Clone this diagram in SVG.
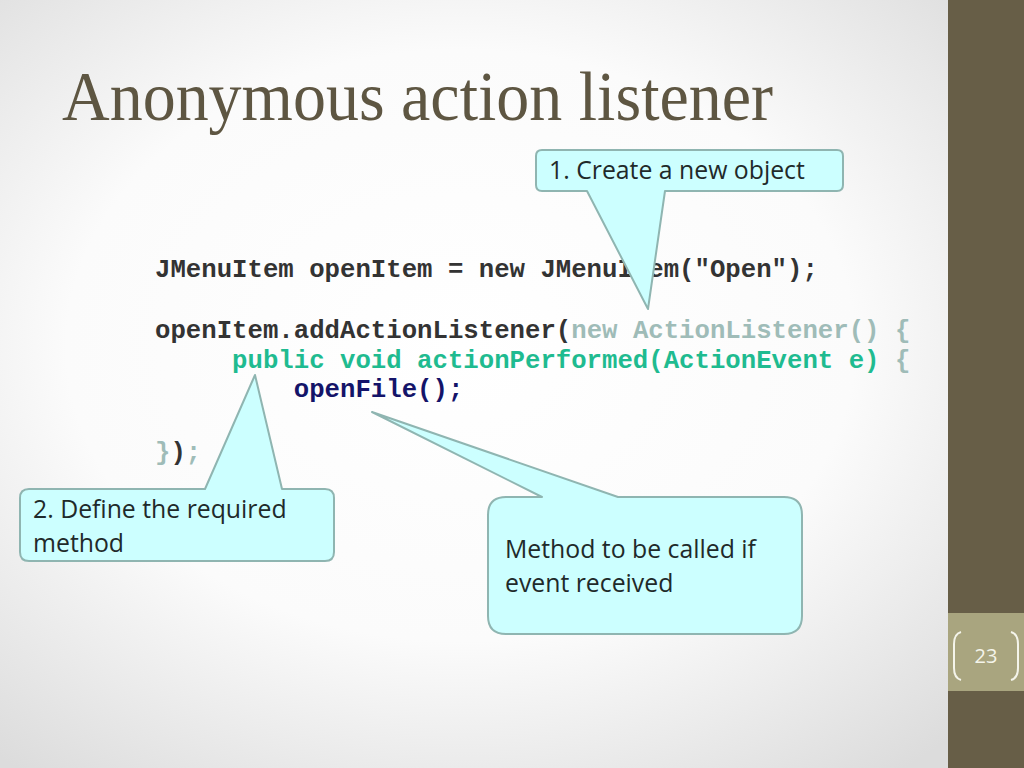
<svg xmlns="http://www.w3.org/2000/svg" width="1024" height="768" viewBox="0 0 1024 768">
<defs>
<radialGradient id="bg" cx="0.45" cy="0.45" r="0.7">
<stop offset="0" stop-color="#ffffff"/>
<stop offset="0.55" stop-color="#fbfbfb"/>
<stop offset="1" stop-color="#dcdcdc"/>
</radialGradient>
<style>
.code{font-family:"Liberation Mono","Courier New",monospace;font-weight:bold;font-size:25.7px;white-space:pre}
.dk{fill:#333333}.lt{fill:#9fbcb8}.gr{fill:#1fbb90}.nv{fill:#141469}
.call{fill:#ccffff;stroke:#8fb5b1;stroke-width:2;stroke-linejoin:round}
.ct{font-family:"Open Sans","Noto Sans",sans-serif;font-size:24.8px;fill:#1f2a2a}
</style>
</defs>
<rect width="1024" height="768" fill="url(#bg)"/>
<rect x="948" y="0" width="76" height="768" fill="#675e47"/>
<rect x="948" y="613" width="76" height="78" fill="#a9a57f"/>
<path d="M961 632 Q954 634 954 644 L954 668 Q954 678 961 680" fill="none" stroke="#f4f4ea" stroke-width="2"/>
<path d="M1011 632 Q1018 634 1018 644 L1018 668 Q1018 678 1011 680" fill="none" stroke="#f4f4ea" stroke-width="2"/>
<text x="986" y="663" text-anchor="middle" font-family="Open Sans, Noto Sans, sans-serif" font-size="20" fill="#f4f4ea">23</text>
<text x="62" y="120" font-family="Liberation Serif, Times New Roman, serif" font-size="69" fill="#5e5642" textLength="711" lengthAdjust="spacingAndGlyphs">Anonymous action listener</text>
<g id="code">
<text class="code" x="155" y="277"><tspan class="dk">JMenuItem openItem = new JMenuItem("Open");</tspan></text>
<text class="code" x="155" y="338"><tspan class="dk">openItem.addActionListener(</tspan><tspan class="lt">new ActionListener() {</tspan></text>
<text class="code" x="155" y="368"><tspan class="gr">     public void actionPerformed(ActionEvent e)</tspan><tspan class="lt"> {</tspan></text>
<text class="code" x="155" y="397"><tspan class="nv">         openFile();</tspan></text>
<text class="code" x="155" y="460"><tspan class="lt">}</tspan><tspan class="dk">)</tspan><tspan class="lt">;</tspan></text>
</g>
<g id="callout1">
<path class="call" d="M542 150 L837 150 Q843 150 843 156 L843 185 Q843 191 837 191 L665 191 L648 309 L587 191 L542 191 Q536 191 536 185 L536 156 Q536 150 542 150 Z"/>
<text class="ct" x="549" y="179">1. Create a new object</text>
</g>
<g id="callout2">
<path class="call" d="M29 489 L205 489 L255 375 L282 489 L325 489 Q334 489 334 498 L334 552 Q334 561 325 561 L29 561 Q20 561 20 552 L20 498 Q20 489 29 489 Z"/>
<text class="ct" x="33" y="518">2. Define the required</text>
<text class="ct" x="33" y="552">method</text>
</g>
<g id="callout3">
<path class="call" d="M506 497 L542 497 L372 412 L618 497 L784 497 Q802 497 802 515 L802 616 Q802 634 784 634 L506 634 Q488 634 488 616 L488 515 Q488 497 506 497 Z"/>
<text class="ct" x="505" y="558">Method to be called if</text>
<text class="ct" x="505" y="592">event received</text>
</g>
</svg>
